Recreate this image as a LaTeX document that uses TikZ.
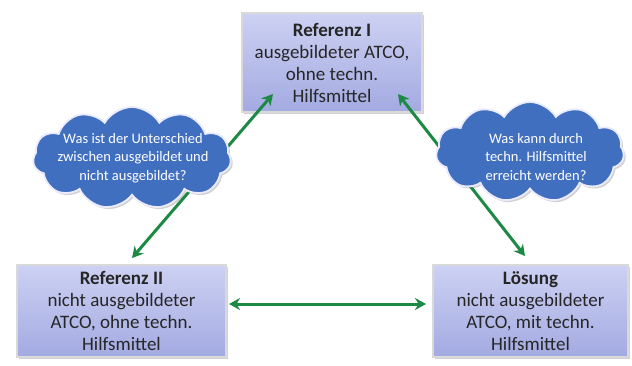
\documentclass[tikz,border=0pt]{standalone}
\usepackage{fontspec}
\setmainfont{Carlito}
\usetikzlibrary{arrows.meta,shapes.symbols,shadows}
\definecolor{arrgreen}{HTML}{1C8A45}
\definecolor{cloudblue}{HTML}{416FC0}
\definecolor{boxtop}{HTML}{CDD1F3}
\definecolor{boxbot}{HTML}{A3AAE1}
\begin{document}
\begin{tikzpicture}[x=1pt,y=-1pt,
  box/.style={rectangle, top color=boxtop, bottom color=boxbot,
    draw=white!85!black, line width=1.2pt,
    drop shadow={shadow xshift=1.5pt,shadow yshift=-1.5pt,opacity=0.35},
    inner sep=0pt, align=center, font=\fontsize{19}{22}\selectfont, text=black!85},
  cloudsty/.style={cloud, cloud puffs=11, cloud puff arc=120, fill=cloudblue,
    draw=white!92!blue, line width=1.8pt, inner sep=0pt,
    drop shadow={shadow xshift=2pt,shadow yshift=-2pt,opacity=0.35}},
  cloudtext/.style={text=white, align=center, inner sep=0pt,
    font=\fontsize{14.5}{18.5}\selectfont},
  arr/.style={{Stealth[length=11pt,width=12pt,inset=3.5pt]}-{Stealth[length=11pt,width=12pt,inset=3.5pt]},
    line width=3pt, draw=arrgreen}
]
\useasboundingbox (0,0) rectangle (632,365);
\fill[white] (0,0) rectangle (632,365);
% boxes
\node[box, minimum width=180pt, minimum height=99pt] (ref1) at (332,62.5)
  {\textbf{Referenz I}\\ausgebildeter ATCO,\\ohne techn.\\Hilfsmittel};
\node[box, minimum width=209pt, minimum height=92pt] (ref2) at (121.5,311)
  {\textbf{Referenz II}\\nicht ausgebildeter\\ATCO, ohne techn.\\Hilfsmittel};
\node[box, minimum width=195pt, minimum height=92pt] (loes) at (530.5,311)
  {\textbf{Lösung}\\nicht ausgebildeter\\ATCO, mit techn.\\Hilfsmittel};
% arrow end points
\coordinate (a1s) at (132,258);
\coordinate (a1e) at (273,94);
\coordinate (a2s) at (398,94);
\coordinate (a2e) at (525,256);
\coordinate (a3s) at (229,304);
\coordinate (a3e) at (426,304);
\draw[arr] (a1s) -- (a1e);
\draw[arr] (a2s) -- (a2e);
\draw[arr] (a3s) -- (a3e);
% clouds
\node[cloudsty, minimum width=198pt, minimum height=102pt] (c1) at (132,158) {};
\node[cloudtext] (c1t) at (133,158)
  {Was ist der Unterschied\\zwischen ausgebildet und\\nicht ausgebildet?};
\node[cloudsty, minimum width=188pt, minimum height=100pt] (c2) at (530,152) {};
\node[cloudtext] (c2t) at (536,157)
  {Was kann durch\\techn. Hilfsmittel\\erreicht werden?};
\end{tikzpicture}
\end{document}
